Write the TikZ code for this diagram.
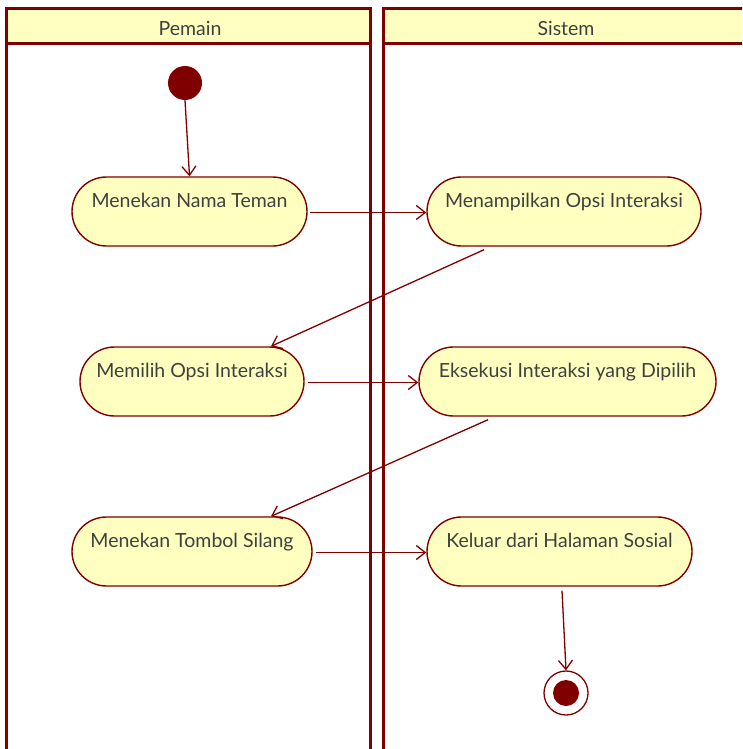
\documentclass[tikz,border=0pt]{standalone}
\usepackage{fontspec}
\setmainfont{Lato}
\usetikzlibrary{shapes.misc,arrows.meta,calc}
\definecolor{umlred}{RGB}{128,0,0}
\definecolor{umlfill}{RGB}{255,255,192}
\definecolor{umltext}{RGB}{64,64,64}
\tikzset{
  lane/.style={draw=umlred,line width=3pt},
  lanehead/.style={fill=umlfill},
  lanetitle/.style={text=umltext,font=\fontsize{19.5}{22}\selectfont},
  action/.style={rounded rectangle,draw=umlred,fill=umlfill,line width=1.4pt,
    minimum height=69pt,inner sep=0pt,text=umltext,font=\fontsize{19.5}{22}\selectfont},
  flow/.style={draw=umlred,line width=1.3pt,-{Straight Barb[length=9pt,width=14pt,line width=1.3pt]}},
  startdot/.style={circle,fill=umlred,minimum size=34pt,inner sep=0pt},
  endring/.style={circle,draw=umlred,fill=white,line width=1.3pt,minimum size=44pt,inner sep=0pt},
  enddot/.style={circle,fill=umlred,minimum size=26pt,inner sep=0pt}
}
\newcommand{\acttext}[1]{\raisebox{23pt}{#1}}
\begin{document}
\begin{tikzpicture}[x=1pt,y=-1pt]
  \useasboundingbox (0,0) rectangle (742,749);
  \fill[white] (0,0) rectangle (742,749);
  \begin{scope}
    \clip (0,0) rectangle (742,749);
    % swimlane headers
    \fill[lanehead] (6,9) rectangle (370,44);
    \fill[lanehead] (383,9) rectangle (760,44);
    % swimlane frames
    \draw[lane] (6,770) -- (6,9) -- (370,9) -- (370,770);
    \draw[lane] (6,44) -- (370,44);
    \draw[lane] (383,770) -- (383,9) -- (760,9);
    \draw[lane] (383,44) -- (760,44);
  \end{scope}
  \node[lanetitle] (pemain) at (190,28) {Pemain};
  \node[lanetitle] (sistem) at (566,28) {Sistem};

  % initial and final states
  \node[startdot] (start) at (185,83) {};
  \node[endring] (stop) at (566,693) {};
  \node[enddot] (stopdot) at (566,693) {};

  % actions
  \node[action,minimum width=235pt] (a1) at (189.5,211.5) {\acttext{Menekan Nama Teman}};
  \node[action,minimum width=274pt] (a2) at (564,211.5) {\acttext{Menampilkan Opsi Interaksi}};
  \node[action,minimum width=224pt] (a3) at (192,381.5) {\acttext{Memilih Opsi Interaksi}};
  \node[action,minimum width=297pt] (a4) at (567.5,381.5) {\acttext{Eksekusi Interaksi yang Dipilih}};
  \node[action,minimum width=240pt] (a5) at (192,551.5) {\acttext{Menekan Tombol Silang}};
  \node[action,minimum width=265pt] (a6) at (559.5,551.5) {\acttext{Keluar dari Halaman Sosial}};

  % control flows
  \draw[flow] (start.south) -- (a1.north);
  \draw[flow] ($(a1.east)+(2,1)$) -- ($(a2.west)+(0,1)$);
  \draw[flow] ($(a2.south)+(-80,3)$) -- ($(a3.north)+(79,0)$);
  \draw[flow] ($(a3.east)+(3,1)$) -- ($(a4.west)+(0,1)$);
  \draw[flow] ($(a4.south)+(-79.5,3)$) -- ($(a5.north)+(79,0)$);
  \draw[flow] ($(a5.east)+(3,1)$) -- ($(a6.west)+(0,1)$);
  \draw[flow] ($(a6.south)+(2.5,4)$) -- (stop.north);
\end{tikzpicture}
\end{document}
